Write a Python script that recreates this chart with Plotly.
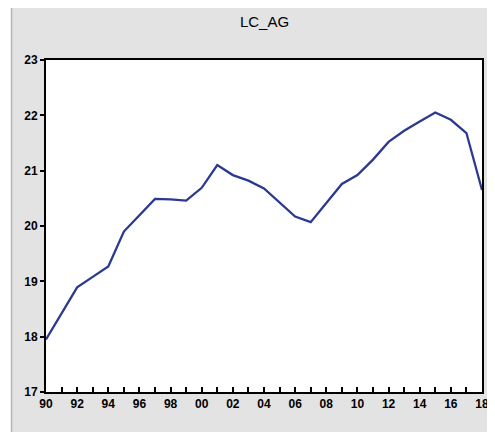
import plotly.graph_objects as go

years = list(range(1990, 2019))
lc_ag = [17.95, 18.42, 18.89, 19.08, 19.27, 19.90, 20.20, 20.49, 20.48, 20.46,
         20.69, 21.10, 20.92, 20.82, 20.68, 20.42, 20.17, 20.07, 20.42, 20.76,
         20.92, 21.20, 21.52, 21.72, 21.89, 22.05, 21.92, 21.68, 20.65]
x_tick_vals = list(range(1990, 2019))
x_tick_text = [str(y)[2:] if y % 2 == 0 else "" for y in x_tick_vals]
y_tick_vals = [17, 18, 19, 20, 21, 22, 23]

fig = go.Figure()
fig.add_trace(go.Scatter(x=years, y=lc_ag, mode="lines",
                         line=dict(color="#2b3990", width=2.3), showlegend=False))

# page body has an 8px default margin, so figure coordinates are offset by 8px
OFF = 8
W, H = 495 - OFF, 432 - OFF
L, R, T, B = 46 - OFF, 6, 60 - OFF, 40
pw, ph = W - L - R, H - T - B

def px(x):
    return (x - OFF - L) / pw

def py(y):
    return (H - B - (y - OFF)) / ph

fig.update_layout(
    width=W, height=H,
    margin=dict(l=L, r=R, t=T, b=B),
    paper_bgcolor="#e3e3e3",
    plot_bgcolor="white",
    font=dict(family="Arial, Liberation Sans", size=12, color="black"),
    title=dict(text="LC_AG", x=px(268), xref="paper", xanchor="center",
               y=1 - (22 - OFF) / H, yanchor="middle",
               font=dict(size=15, color="black")),
    shapes=[
        dict(type="rect", xref="paper", yref="paper", x0=px(0), x1=px(11),
             y0=py(440), y1=py(0), fillcolor="white", line=dict(width=0), layer="below"),
        dict(type="line", xref="paper", yref="paper", x0=px(11), x1=px(11),
             y0=py(432), y1=py(8), line=dict(color="#b5b5b5", width=1.5), layer="below"),
    ],
)
fig.update_xaxes(range=[1990, 2018], tickvals=x_tick_vals, ticktext=x_tick_text,
                 ticks="inside", ticklen=5, tickwidth=1.5, tickcolor="black",
                 showline=True, linecolor="black", linewidth=2, mirror=True,
                 showgrid=False, zeroline=False,
                 tickfont=dict(size=12, color="black", weight="bold"))
fig.update_yaxes(range=[17, 23], tickvals=y_tick_vals,
                 ticks="outside", ticklen=4, tickwidth=1.5, tickcolor="black",
                 showline=True, linecolor="black", linewidth=2, mirror=True,
                 showgrid=False, zeroline=False,
                 tickfont=dict(size=12, color="black", weight="bold"))

fig.write_html("out.html")
